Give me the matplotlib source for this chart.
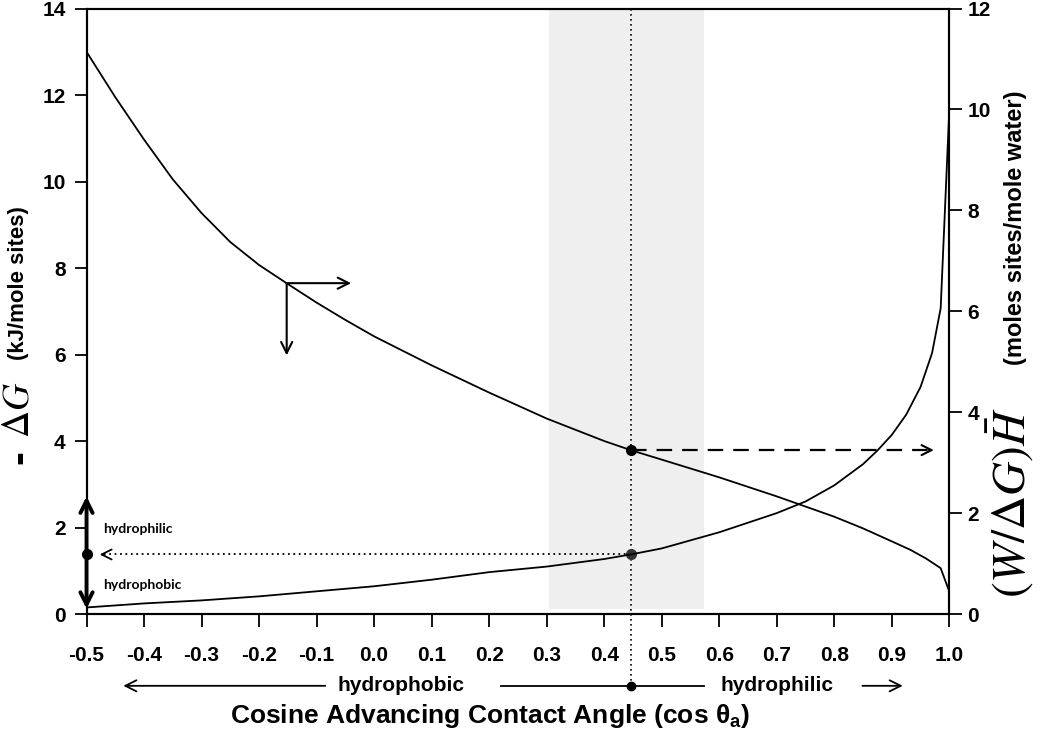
import numpy as np
import matplotlib.pyplot as plt

# Data
cos_a_dg = [-0.5, -0.45, -0.4, -0.35, -0.3, -0.25, -0.2, -0.15, -0.1, -0.05, 0.0, 0.1, 0.2, 0.3,
            0.4, 0.446, 0.5, 0.6, 0.7, 0.8, 0.85, 0.9, 0.933, 0.96, 0.985, 1.0]
neg_dg = [13.0, 11.95, 10.97, 10.05, 9.27, 8.6, 8.07, 7.63, 7.2, 6.8, 6.42, 5.75, 5.12, 4.52,
          4.0, 3.79, 3.57, 3.16, 2.72, 2.25, 1.98, 1.68, 1.48, 1.28, 1.06, 0.52]

cos_a_w = [-0.5, -0.4, -0.3, -0.2, -0.1, 0.0, 0.1, 0.2, 0.3, 0.4, 0.446, 0.5, 0.6, 0.7, 0.75,
           0.8, 0.85, 0.875, 0.9, 0.925, 0.95, 0.97, 0.985, 1.0]
w_dg_h = [0.13, 0.21, 0.27, 0.35, 0.45, 0.55, 0.68, 0.83, 0.94, 1.09, 1.18, 1.3, 1.62, 2.0, 2.23,
          2.55, 2.97, 3.24, 3.55, 3.95, 4.5, 5.17, 6.06, 10.0]

x_ticks = np.round(np.arange(-0.5, 1.01, 0.1), 1)
x_ticklabels = [f"{abs(t):.1f}" if abs(t) < 1e-9 else f"{t:.1f}" for t in x_ticks]

cos_mark = 0.446      # selected contact angle
dg_mark = 3.79        # -dG at mark
w_mark = 1.18         # W/dG H at mark (right axis)
band = (0.304, 0.573) # shaded range

plt.rcParams["font.family"] = ["Liberation Sans", "DejaVu Sans"]
plt.rcParams["mathtext.fontset"] = "stix"

fig = plt.figure(figsize=(10.5, 7.35), dpi=100)
ax = fig.add_axes([0.0824, 0.1646, 0.8217, 0.8238])
ax2 = ax.twinx()

ax.set_xlim(-0.5, 1.0)
ax.set_ylim(0, 14)
ax2.set_ylim(0, 12)

# shaded band
ax.axvspan(band[0], band[1], ymin=0.11 / 14, ymax=1, color="#efefef", zorder=0, lw=0)

# curves
ax.plot(cos_a_dg, neg_dg, color="black", lw=1.3, zorder=3)
ax2.plot(cos_a_w, w_dg_h, color="black", lw=1.3, zorder=3)

# ticks
ax.set_xticks(x_ticks)
ax.set_xticklabels(x_ticklabels, fontweight="bold", fontsize=15)
ax.set_yticks(range(0, 15, 2))
ax.set_yticklabels([str(v) for v in range(0, 15, 2)], fontweight="bold", fontsize=15)
ax2.set_yticks(range(0, 13, 2))
ax2.set_yticklabels([str(v) for v in range(0, 13, 2)], fontweight="bold", fontsize=15)
ax.tick_params(axis="x", direction="out", length=9, width=1.3, pad=14)
ax.tick_params(axis="y", direction="out", length=9, width=1.3, pad=6)
ax2.tick_params(axis="y", direction="out", length=9, width=1.3, pad=4)
for a in (ax, ax2):
    for s in a.spines.values():
        s.set_linewidth(1.5)

# right-axis value expressed in left-axis units
w_mark_left = w_mark * 14 / 12

# vertical dotted line through the marked angle
ax.plot([cos_mark, cos_mark], [14, -1.66], ls=(0, (1, 2)), color="black", lw=1.2,
        clip_on=False, zorder=4)

# dashed arrow to right axis
ax.plot([cos_mark, 0.965], [dg_mark, dg_mark], ls=(0, (7, 4.5)), color="black", lw=1.6, zorder=4)
ax.annotate("", xy=(0.978, dg_mark), xytext=(0.96, dg_mark),
            arrowprops=dict(arrowstyle="->", color="black", lw=1.5, mutation_scale=18))

# dotted arrow to left axis
ax.plot([cos_mark, -0.47], [w_mark_left, w_mark_left], ls=(0, (1, 2)), color="black", lw=1.3,
        zorder=4)
ax.annotate("", xy=(-0.482, w_mark_left), xytext=(-0.465, w_mark_left),
            arrowprops=dict(arrowstyle="->", color="black", lw=1.3, mutation_scale=18))

# marker dots
ax.plot([cos_mark], [dg_mark], "o", color="black", ms=7, zorder=5)
ax.plot([cos_mark], [w_mark_left], "o", color="#333333", ms=7, zorder=5)
ax.plot([-0.5], [w_mark_left], "o", color="black", ms=7, zorder=6, clip_on=False)

# thick double arrow on left axis
ax.annotate("", xy=(-0.5, 2.72), xytext=(-0.5, 0.12),
            arrowprops=dict(arrowstyle="<->", color="black", lw=2.8, mutation_scale=22,
                            shrinkA=0, shrinkB=0), annotation_clip=False)
ax.text(-0.472, 1.97, "hydrophilic", fontfamily=["Lato", "DejaVu Sans"], fontweight="bold",
        fontsize=10, va="center", ha="left")
ax.text(-0.472, 0.66, "hydrophobic", fontfamily=["Lato", "DejaVu Sans"], fontweight="bold",
        fontsize=10, va="center", ha="left")

# direction arrows from curve point
ax.annotate("", xy=(-0.04, 7.65), xytext=(-0.152, 7.65),
            arrowprops=dict(arrowstyle="->", color="black", lw=1.5, mutation_scale=20,
                            shrinkA=0, shrinkB=0))
ax.annotate("", xy=(-0.152, 5.98), xytext=(-0.152, 7.65),
            arrowprops=dict(arrowstyle="->", color="black", lw=1.5, mutation_scale=20,
                            shrinkA=0, shrinkB=0))

# hydrophobic / hydrophilic scale under the axis
yb = -1.66
ax.annotate("", xy=(-0.436, yb), xytext=(-0.085, yb),
            arrowprops=dict(arrowstyle="->", color="black", lw=1.3, mutation_scale=20,
                            shrinkA=0, shrinkB=0), annotation_clip=False)
ax.text(0.047, yb, "hydrophobic", fontweight="bold", fontsize=15,
        ha="center", va="center", clip_on=False)
ax.plot([0.221, 0.573], [yb, yb], color="black", lw=1.3, clip_on=False)
ax.plot([cos_mark], [yb], "o", color="black", ms=6, clip_on=False, zorder=5)
ax.text(0.70, yb, "hydrophilic", fontweight="bold", fontsize=15,
        ha="center", va="center", clip_on=False)
ax.annotate("", xy=(0.919, yb), xytext=(0.849, yb),
            arrowprops=dict(arrowstyle="->", color="black", lw=1.3, mutation_scale=20,
                            shrinkA=0, shrinkB=0), annotation_clip=False)

# x label
fig.text(0.467, 0.026, r"Cosine Advancing Contact Angle (cos $\mathregular{\theta_a}$)",
         fontweight="bold", fontsize=19, ha="center", va="center")

# left y label
fig.text(0.018, 0.615, "(kJ/mole sites)", rotation=90, fontweight="bold", fontsize=16,
         ha="center", va="center")
fig.text(0.018, 0.442, r"$\Delta G$", rotation=90, fontsize=27, ha="center", va="center")
fig.text(0.019, 0.378, "-", rotation=90, fontweight="bold", fontsize=30, ha="center",
         va="center")

# right y label
fig.text(0.967, 0.69, "(moles sites/mole water)", rotation=90, fontweight="bold", fontsize=17,
         ha="center", va="center")
fig.text(0.962, 0.316, r"$\left(W/\Delta G\right)\bar{H}$", rotation=90, fontsize=34,
         ha="center", va="center")

plt.savefig("out.png", dpi=100)
